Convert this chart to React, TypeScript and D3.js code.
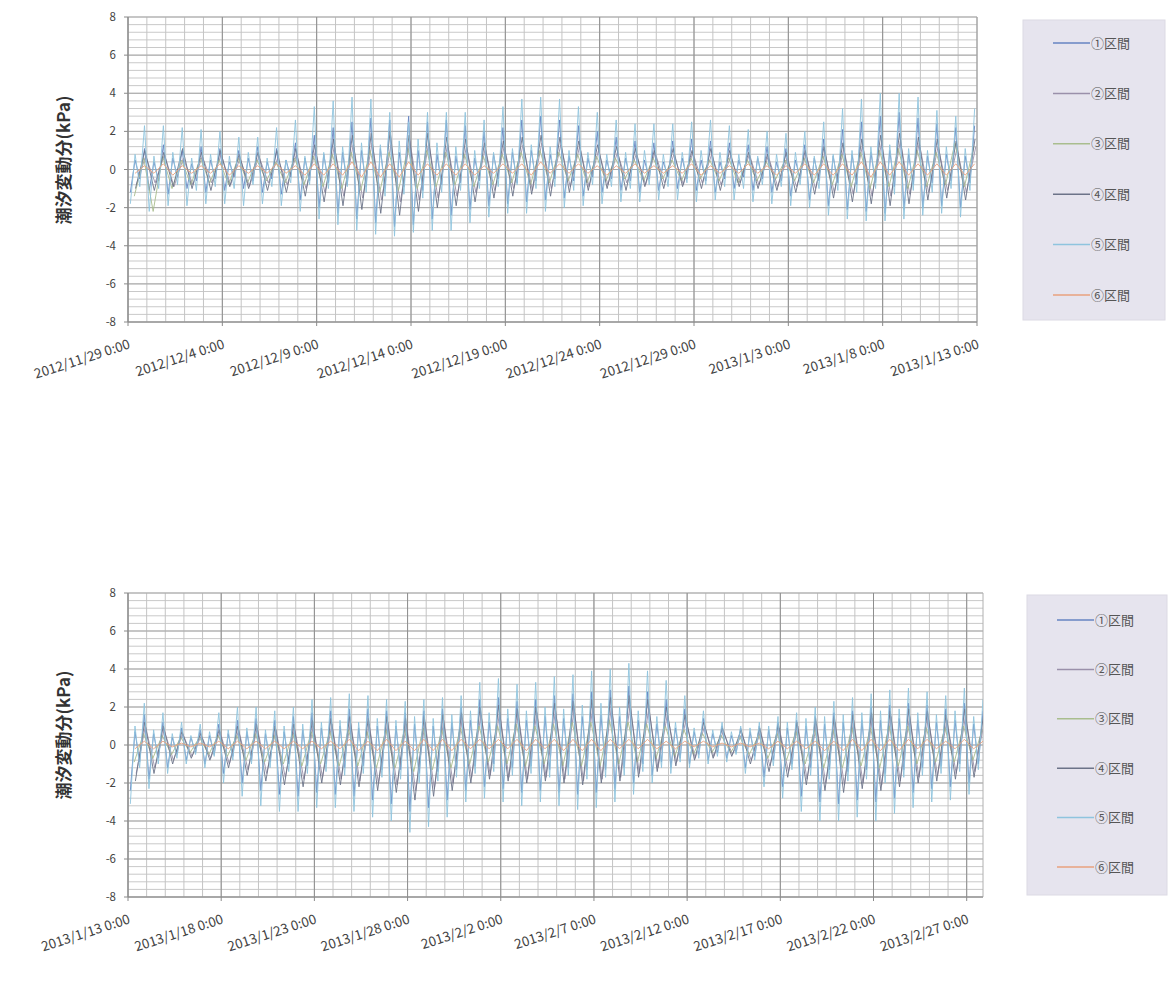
import React, { useMemo } from "react";
import * as d3 from "d3";

const SERIES_NAMES = ["①区間", "②区間", "③区間", "④区間", "⑤区間", "⑥区間"];
const SERIES_COLORS = ["#6684c2", "#9a90aa", "#a9bd8e", "#6c7388", "#8fc4de", "#e9a27e"];
const Y_TICKS = [8, 6, 4, 2, 0, -2, -4, -6, -8];
const LAG_HOURS = [0, 1.5, -1, 0.5, 0, 0];

const TOP_TICK_LABELS = [
  "2012/11/29 0:00", "2012/12/4 0:00", "2012/12/9 0:00", "2012/12/14 0:00", "2012/12/19 0:00",
  "2012/12/24 0:00", "2012/12/29 0:00", "2013/1/3 0:00", "2013/1/8 0:00", "2013/1/13 0:00",
];
const BOTTOM_TICK_LABELS = [
  "2013/1/13 0:00", "2013/1/18 0:00", "2013/1/23 0:00", "2013/1/28 0:00", "2013/2/2 0:00",
  "2013/2/7 0:00", "2013/2/12 0:00", "2013/2/17 0:00", "2013/2/22 0:00", "2013/2/27 0:00",
];
const TOP_END = "2013/1/13 0:00";
const BOTTOM_END = "2013/2/27 21:00";

// ---- top chart, one value per day (kPa) ----
const TOP_S1_HH = [1.1,1.3,1.0,1.2,1.1,1.0,1.2,1.1,1.4,1.8,2.2,2.5,2.7,2.6,2.8,2.5,2.6,2.3,2.0,2.2,2.6,2.8,2.6,2.3,2.0,1.7,1.5,1.4,1.5,1.6,1.5,1.4,1.3,1.2,1.1,1.3,1.6,2.1,2.5,2.8,3.0,2.7,2.4,2.2,2.3];
const TOP_S1_LL = [-1.2,-1.1,-1.3,-1.0,-1.2,-1.1,-1.0,-1.2,-1.3,-1.6,-2.0,-2.3,-2.6,-2.8,-3.0,-2.9,-2.6,-2.4,-2.1,-1.9,-1.8,-1.7,-1.6,-1.5,-1.4,-1.2,-1.1,-1.2,-1.1,-1.0,-1.1,-1.2,-1.0,-1.1,-1.2,-1.4,-1.6,-1.9,-2.1,-2.2,-2.3,-2.1,-2.0,-1.9,-2.0];
const TOP_S1_LH = [0.5,0.4,0.6,0.3,0.5,0.4,0.6,0.4,0.5,0.6,0.8,0.9,1.0,1.1,0.9,1.0,0.8,0.7,0.6,0.8,0.9,1.0,0.8,0.7,0.6,0.5,0.6,0.5,0.4,0.6,0.5,0.4,0.5,0.6,0.4,0.5,0.6,0.7,0.8,0.9,1.0,0.8,0.7,0.8,0.7];
const TOP_S1_HL = [-0.5,-0.6,-0.4,-0.6,-0.5,-0.4,-0.6,-0.5,-0.4,-0.6,-0.7,-0.8,-0.9,-1.0,-0.9,-1.1,-0.8,-0.7,-0.6,-0.5,-0.7,-0.6,-0.5,-0.6,-0.4,-0.5,-0.6,-0.5,-0.4,-0.5,-0.6,-0.5,-0.4,-0.5,-0.6,-0.5,-0.6,-0.7,-0.8,-0.7,-0.9,-0.8,-0.7,-0.6,-0.7];
const TOP_S2_HI = [0.7,0.8,0.6,0.7,0.8,0.6,0.7,0.6,0.8,1.0,1.2,1.3,1.4,1.3,1.5,1.4,1.3,1.2,1.1,1.2,1.3,1.4,1.3,1.2,1.0,0.9,0.8,0.9,0.8,0.9,0.8,0.7,0.8,0.7,0.6,0.8,0.9,1.1,1.3,1.4,1.5,1.4,1.2,1.1,1.2];
const TOP_S2_LO = [-0.8,-0.7,-0.9,-0.8,-0.7,-0.8,-0.9,-0.7,-0.8,-1.0,-1.2,-1.4,-1.5,-1.6,-1.7,-1.6,-1.5,-1.4,-1.2,-1.1,-1.0,-1.1,-1.0,-0.9,-0.9,-0.8,-0.7,-0.8,-0.7,-0.8,-0.7,-0.8,-0.7,-0.8,-0.9,-0.9,-1.0,-1.2,-1.3,-1.4,-1.4,-1.3,-1.2,-1.1,-1.2];
const TOP_S3_HI = [0.6,0.7,0.5,0.6,0.5,0.6,0.5,0.4,0.6,0.7,0.8,0.9,1.0,0.9,1.1,1.0,0.9,0.8,0.7,0.8,0.9,1.0,0.9,0.8,0.7,0.6,0.5,0.6,0.5,0.6,0.5,0.6,0.5,0.4,0.5,0.6,0.7,0.8,0.9,1.0,1.1,1.0,0.9,1.4,1.2];
const TOP_S3_LO = [-1.4,-2.2,-1.0,-0.8,-0.7,-0.8,-0.7,-0.6,-0.7,-0.8,-0.9,-1.0,-1.1,-1.2,-1.1,-1.0,-0.9,-0.8,-0.9,-0.8,-0.7,-0.8,-0.7,-0.6,-0.7,-0.6,-0.5,-0.6,-0.5,-0.6,-0.5,-0.6,-0.7,-0.6,-0.5,-0.6,-0.7,-0.8,-0.9,-1.0,-0.9,-1.0,-0.9,-0.8,-0.9];
const TOP_S4_HI = [1.0,0.9,1.1,0.9,1.0,0.8,0.9,1.0,1.1,1.3,1.6,1.8,1.9,2.0,1.8,1.9,1.7,1.6,1.4,1.5,1.7,1.8,1.7,1.5,1.3,1.2,1.1,1.0,1.1,1.0,1.1,1.0,0.9,0.8,0.9,1.0,1.2,1.4,1.6,1.8,1.9,1.7,1.6,1.5,1.6];
const TOP_S4_LO = [-1.0,-1.1,-0.9,-1.0,-1.1,-0.9,-1.0,-1.1,-1.2,-1.4,-1.7,-1.9,-2.1,-2.3,-2.4,-2.2,-2.0,-1.9,-1.7,-1.5,-1.4,-1.3,-1.4,-1.2,-1.1,-1.0,-1.1,-0.9,-1.0,-0.9,-1.0,-1.1,-0.9,-1.0,-1.1,-1.2,-1.3,-1.5,-1.7,-1.8,-1.9,-1.8,-1.6,-1.5,-1.6];
const TOP_S5_HH = [2.3,2.3,2.2,2.1,2.0,1.7,1.7,2.2,2.6,3.3,3.6,3.8,3.7,3.0,2.5,3.0,3.0,3.0,2.6,3.3,3.7,3.8,3.7,3.3,3.0,2.6,2.4,2.4,2.4,2.5,2.6,2.3,2.1,2.0,1.9,2.0,2.5,3.2,3.7,4.0,4.0,3.8,3.1,2.8,3.2];
const TOP_S5_LL = [-1.8,-2.2,-1.9,-1.9,-1.8,-1.8,-1.9,-1.8,-1.9,-2.2,-2.6,-2.9,-3.2,-3.4,-3.5,-3.3,-3.2,-3.2,-2.8,-2.5,-2.3,-2.3,-2.2,-2.0,-1.9,-1.8,-1.7,-1.7,-1.6,-1.6,-1.7,-1.6,-1.6,-1.7,-1.8,-1.9,-2.0,-2.4,-2.6,-2.7,-2.7,-2.6,-2.4,-2.3,-2.5];
const TOP_S5_LH = [0.8,0.7,0.9,0.6,0.8,0.7,0.9,0.6,0.5,0.7,0.9,1.2,1.4,1.3,1.5,1.6,1.4,1.2,1.0,0.9,1.1,1.3,1.2,1.0,0.9,0.8,0.9,1.0,0.8,0.9,1.0,0.9,0.8,0.7,0.8,0.9,0.7,0.8,1.0,1.2,1.3,1.1,1.0,1.2,1.1];
const TOP_S5_HL = [-0.9,-1.0,-0.8,-1.1,-0.9,-1.0,-0.8,-0.9,-0.7,-0.8,-1.0,-0.9,-1.2,-1.4,-1.3,-1.5,-1.2,-1.1,-1.0,-0.9,-0.8,-1.0,-0.9,-1.1,-0.8,-0.9,-1.0,-0.8,-0.9,-0.7,-0.8,-0.9,-1.0,-0.8,-0.9,-0.8,-1.0,-1.1,-1.2,-1.0,-1.3,-1.1,-1.2,-1.0,-1.1];
const TOP_S6_HI = [0.2,0.3,0.2,0.2,0.3,0.2,0.2,0.3,0.2,0.3,0.3,0.4,0.4,0.3,0.4,0.3,0.3,0.3,0.2,0.3,0.3,0.4,0.3,0.3,0.2,0.2,0.3,0.2,0.2,0.3,0.2,0.2,0.3,0.2,0.2,0.3,0.3,0.3,0.4,0.4,0.4,0.3,0.3,0.3,0.3];
const TOP_S6_LO = [-0.2,-0.2,-0.3,-0.2,-0.2,-0.3,-0.2,-0.2,-0.2,-0.3,-0.3,-0.3,-0.4,-0.4,-0.4,-0.3,-0.3,-0.3,-0.3,-0.2,-0.2,-0.3,-0.2,-0.2,-0.2,-0.3,-0.2,-0.2,-0.2,-0.2,-0.3,-0.2,-0.2,-0.2,-0.3,-0.2,-0.3,-0.3,-0.3,-0.4,-0.3,-0.3,-0.3,-0.3,-0.3];

// ---- bottom chart, one value per day (kPa) ----
const BOT_S1_HH = [1.6,1.2,0.9,0.8,1.1,1.3,1.4,1.3,1.5,1.7,1.8,1.9,1.9,1.8,1.7,1.8,1.9,2.0,2.4,2.5,2.3,2.4,2.6,2.7,2.8,2.9,3.1,2.8,2.4,1.9,1.4,1.0,0.9,1.0,1.2,1.3,1.5,1.7,1.8,2.0,2.1,2.2,2.1,1.9,2.2,1.8];
const BOT_S1_LL = [-2.4,-1.8,-1.2,-0.8,-1.0,-1.5,-2.0,-2.4,-2.6,-2.7,-2.5,-2.6,-2.7,-2.9,-3.1,-3.5,-3.3,-2.9,-2.4,-2.2,-2.3,-2.5,-2.4,-2.5,-2.6,-2.5,-2.3,-2.0,-1.6,-1.2,-1.0,-0.8,-0.7,-1.2,-1.7,-2.2,-2.7,-3.0,-3.1,-2.9,-3.0,-2.8,-2.5,-2.3,-2.2,-2.0];
const BOT_S1_LH = [0.7,0.6,0.4,0.4,0.5,0.6,0.7,0.6,0.7,0.8,0.9,1.0,0.9,1.0,1.0,1.1,1.0,1.2,1.3,1.2,1.4,1.3,1.5,1.4,1.5,1.6,1.5,1.3,1.1,0.9,0.7,0.6,0.5,0.7,0.8,0.9,1.0,1.1,1.2,1.3,1.3,1.4,1.3,1.2,1.3,1.1];
const BOT_S1_HL = [-0.9,-0.7,-0.5,-0.4,-0.5,-0.6,-0.8,-0.9,-1.0,-1.1,-1.0,-1.2,-1.1,-1.3,-1.3,-1.5,-1.4,-1.3,-1.1,-1.0,-1.2,-1.1,-1.3,-1.2,-1.3,-1.3,-1.2,-1.0,-0.9,-0.7,-0.5,-0.4,-0.4,-0.6,-0.8,-1.0,-1.2,-1.3,-1.4,-1.3,-1.5,-1.3,-1.2,-1.1,-1.0,-1.0];
const BOT_S2_HI = [1.0,0.8,0.6,0.5,0.7,0.8,0.9,0.8,0.9,1.0,1.1,1.2,1.1,1.2,1.1,1.2,1.3,1.4,1.6,1.7,1.6,1.7,1.8,1.9,2.0,2.0,2.1,1.9,1.6,1.3,1.0,0.7,0.6,0.7,0.9,1.0,1.1,1.2,1.3,1.4,1.5,1.5,1.4,1.3,1.5,1.2];
const BOT_S2_LO = [-1.5,-1.2,-0.8,-0.6,-0.7,-1.0,-1.3,-1.5,-1.7,-1.8,-1.7,-1.8,-1.9,-2.0,-2.1,-2.4,-2.3,-2.0,-1.7,-1.6,-1.7,-1.8,-1.7,-1.8,-1.9,-1.8,-1.7,-1.5,-1.2,-0.9,-0.7,-0.6,-0.5,-0.8,-1.1,-1.4,-1.8,-2.0,-2.1,-2.0,-2.1,-1.9,-1.7,-1.6,-1.5,-1.4];
const BOT_S3_HI = [0.6,0.5,0.4,0.4,0.5,0.5,0.6,0.5,0.6,0.7,0.7,0.8,0.7,0.8,0.8,0.9,0.8,0.9,1.0,1.0,1.1,1.0,1.1,1.2,1.2,1.3,1.2,1.1,1.0,0.8,0.6,0.5,0.4,0.5,0.6,0.7,0.8,0.8,0.9,0.9,1.0,1.0,0.9,0.9,1.0,0.8];
const BOT_S3_LO = [-0.9,-0.7,-0.5,-0.4,-0.5,-0.6,-0.8,-0.9,-1.0,-1.1,-1.0,-1.1,-1.1,-1.2,-1.2,-1.4,-1.3,-1.2,-1.0,-0.9,-1.0,-1.1,-1.0,-1.1,-1.1,-1.1,-1.0,-0.9,-0.7,-0.6,-0.5,-0.4,-0.4,-0.5,-0.7,-0.8,-1.0,-1.2,-1.2,-1.1,-1.2,-1.1,-1.0,-0.9,-0.9,-0.8];
const BOT_S4_HI = [1.2,1.0,0.7,0.6,0.8,1.0,1.1,1.0,1.1,1.3,1.4,1.5,1.4,1.5,1.4,1.5,1.6,1.7,2.0,2.1,1.9,2.0,2.2,2.3,2.4,2.5,2.6,2.4,2.0,1.6,1.2,0.9,0.8,0.9,1.1,1.2,1.4,1.5,1.6,1.7,1.8,1.9,1.8,1.6,1.9,1.5];
const BOT_S4_LO = [-1.9,-1.5,-1.0,-0.7,-0.8,-1.2,-1.6,-1.9,-2.1,-2.2,-2.0,-2.1,-2.2,-2.4,-2.5,-2.9,-2.7,-2.4,-2.0,-1.8,-1.9,-2.0,-1.9,-2.0,-2.1,-2.0,-1.9,-1.7,-1.4,-1.1,-0.8,-0.7,-0.6,-1.0,-1.4,-1.7,-2.1,-2.4,-2.5,-2.3,-2.4,-2.2,-2.0,-1.9,-1.8,-1.7];
const BOT_S5_HH = [2.2,1.7,1.2,1.1,1.7,2.0,2.0,1.8,2.0,2.4,2.5,2.7,2.6,2.4,2.3,2.4,2.5,2.6,3.3,3.5,3.2,3.3,3.6,3.7,3.9,4.0,4.3,3.9,3.4,2.6,1.8,1.2,1.0,1.2,1.5,1.7,2.0,2.3,2.5,2.7,2.9,3.0,2.8,2.6,3.0,2.4];
const BOT_S5_LL = [-3.1,-2.3,-1.5,-1.0,-1.2,-2.0,-2.7,-3.2,-3.5,-3.5,-3.3,-3.3,-3.5,-3.8,-4.0,-4.6,-4.3,-3.8,-3.0,-2.8,-3.0,-3.2,-3.0,-3.2,-3.4,-3.3,-3.0,-2.6,-2.0,-1.5,-1.2,-1.0,-0.9,-1.5,-2.2,-2.8,-3.5,-4.0,-4.0,-3.8,-4.0,-3.6,-3.3,-3.0,-2.9,-2.6];
const BOT_S5_LH = [1.0,0.8,0.6,0.5,0.7,0.8,0.9,0.8,1.0,1.1,1.2,1.3,1.2,1.4,1.3,1.5,1.4,1.6,1.8,1.7,1.9,1.8,2.0,1.9,2.1,2.2,2.0,1.8,1.5,1.2,0.9,0.8,0.7,0.9,1.0,1.2,1.4,1.5,1.6,1.7,1.8,1.9,1.7,1.6,1.8,1.5];
const BOT_S5_HL = [-1.2,-1.0,-0.7,-0.5,-0.6,-0.8,-1.0,-1.2,-1.4,-1.5,-1.4,-1.6,-1.5,-1.7,-1.8,-2.0,-1.9,-1.7,-1.5,-1.4,-1.6,-1.5,-1.7,-1.6,-1.8,-1.7,-1.6,-1.4,-1.2,-0.9,-0.7,-0.6,-0.5,-0.8,-1.1,-1.3,-1.6,-1.8,-1.9,-1.8,-2.0,-1.7,-1.6,-1.5,-1.4,-1.3];
const BOT_S6_HI = [0.2,0.2,0.1,0.1,0.2,0.2,0.2,0.2,0.2,0.2,0.2,0.3,0.2,0.3,0.2,0.3,0.3,0.3,0.3,0.3,0.3,0.3,0.3,0.3,0.3,0.3,0.3,0.3,0.2,0.2,0.2,0.1,0.1,0.1,0.2,0.2,0.2,0.2,0.3,0.3,0.3,0.3,0.3,0.2,0.3,0.2];
const BOT_S6_LO = [-0.2,-0.2,-0.1,-0.1,-0.1,-0.2,-0.2,-0.2,-0.2,-0.2,-0.2,-0.2,-0.3,-0.3,-0.3,-0.3,-0.3,-0.3,-0.2,-0.2,-0.2,-0.3,-0.2,-0.3,-0.3,-0.3,-0.2,-0.2,-0.2,-0.2,-0.1,-0.1,-0.1,-0.1,-0.2,-0.2,-0.2,-0.3,-0.3,-0.3,-0.3,-0.3,-0.2,-0.2,-0.2,-0.2];

type Daily = { hh: number[]; ll: number[]; lh?: number[]; hl?: number[] };

const TOP_SERIES: Daily[] = [
  { hh: TOP_S1_HH, ll: TOP_S1_LL, lh: TOP_S1_LH, hl: TOP_S1_HL },
  { hh: TOP_S2_HI, ll: TOP_S2_LO },
  { hh: TOP_S3_HI, ll: TOP_S3_LO },
  { hh: TOP_S4_HI, ll: TOP_S4_LO },
  { hh: TOP_S5_HH, ll: TOP_S5_LL, lh: TOP_S5_LH, hl: TOP_S5_HL },
  { hh: TOP_S6_HI, ll: TOP_S6_LO },
];
const BOTTOM_SERIES: Daily[] = [
  { hh: BOT_S1_HH, ll: BOT_S1_LL, lh: BOT_S1_LH, hl: BOT_S1_HL },
  { hh: BOT_S2_HI, ll: BOT_S2_LO },
  { hh: BOT_S3_HI, ll: BOT_S3_LO },
  { hh: BOT_S4_HI, ll: BOT_S4_LO },
  { hh: BOT_S5_HH, ll: BOT_S5_LL, lh: BOT_S5_LH, hl: BOT_S5_HL },
  { hh: BOT_S6_HI, ll: BOT_S6_LO },
];

const parseTime = d3.timeParse("%Y/%m/%d %H:%M");
const HOUR = 3600 * 1000;
const FONT = "'Noto Sans CJK JP', 'Noto Sans', sans-serif";

// daily extremes -> timestamped points (low-low 3h, low-high 9h, high-low 15h, high-high 21h)
function toPoints(s: Daily, start: Date, lag: number): [Date, number][] {
  const pts: [Date, number][] = [];
  s.hh.forEach((_, d) => {
    const day = +d3.timeDay.offset(start, d);
    if (s.lh && s.hl) {
      pts.push([new Date(day + 3 * HOUR), s.ll[d]]);
      pts.push([new Date(day + 9 * HOUR), s.lh[d]]);
      pts.push([new Date(day + 15 * HOUR), s.hl[d]]);
      pts.push([new Date(day + 21 * HOUR), s.hh[d]]);
    } else {
      pts.push([new Date(day + (9 + lag) * HOUR), s.ll[d]]);
      pts.push([new Date(day + (21 + lag) * HOUR), s.hh[d]]);
    }
  });
  return pts;
}

type ChartProps = {
  id: string;
  left: number;
  right: number;
  top: number;
  bottom: number;
  tickLabels: string[];
  endLabel: string;
  series: Daily[];
  legend: { x: number; y: number; w: number; h: number; first: number; step: number };
  titleY: number;
};

const TideChart = ({ id, left, right, top, bottom, tickLabels, endLabel, series, legend, titleY }: ChartProps) => {
  const ticks = tickLabels.map((t) => parseTime(t) as Date);
  const start = ticks[0];
  const end = parseTime(endLabel) as Date;

  const xScale = useMemo(() => d3.scaleTime().domain([start, end]).range([left, right]), [start, end, left, right]);
  const yScale = useMemo(() => d3.scaleLinear().domain([-8, 8]).range([bottom, top]), [top, bottom]);

  const paths = useMemo(() => {
    const line = d3.line<[Date, number]>().x((d) => xScale(d[0])).y((d) => yScale(d[1]));
    return series.map((s, i) => line(toPoints(s, start, LAG_HOURS[i])) || "");
  }, [series, xScale, yScale, start]);

  const minorY = d3.range(-8, 8.001, 0.4);
  const days = d3.timeDay.range(start, end);

  return (
    <g>
      <defs>
        <clipPath id={id}>
          <rect x={left} y={top} width={right - left} height={bottom - top} />
        </clipPath>
      </defs>
      {/* grid */}
      {minorY.map((v, i) => (
        <line key={"hy" + i} x1={left} x2={right} y1={yScale(v)} y2={yScale(v)} stroke="#c9c9c9" strokeWidth={1} />
      ))}
      {days.map((d, i) => (
        <line key={"vx" + i} x1={xScale(d)} x2={xScale(d)} y1={top} y2={bottom} stroke="#c4c4c4" strokeWidth={1} />
      ))}
      {Y_TICKS.map((v) => (
        <line key={"my" + v} x1={left} x2={right} y1={yScale(v)} y2={yScale(v)} stroke="#a8a8a8" strokeWidth={1} />
      ))}
      {ticks.map((d, i) => (
        <line key={"mx" + i} x1={xScale(d)} x2={xScale(d)} y1={top} y2={bottom} stroke="#8e8e8e" strokeWidth={1} />
      ))}
      <line x1={right} x2={right} y1={top} y2={bottom} stroke="#b0b0b0" />

      {/* series */}
      <g clipPath={`url(#${id})`}>
        {paths.map((p, i) => (
          <path key={i} d={p} fill="none" stroke={SERIES_COLORS[i]} strokeWidth={1} strokeOpacity={0.9} />
        ))}
      </g>

      {/* axes */}
      <line x1={left} x2={left} y1={top} y2={bottom} stroke="#8a8a8a" />
      <line x1={left} x2={right} y1={bottom} y2={bottom} stroke="#8a8a8a" />
      {Y_TICKS.map((v) => (
        <g key={"yt" + v}>
          <line x1={left - 4} x2={left} y1={yScale(v)} y2={yScale(v)} stroke="#8a8a8a" />
          <text x={left - 12} y={yScale(v)} dy="0.35em" textAnchor="end" fontSize={11.5} fill="#444" fontFamily={FONT}>
            {v}
          </text>
        </g>
      ))}
      {ticks.map((d, i) => (
        <g key={"xt" + i}>
          <line x1={xScale(d)} x2={xScale(d)} y1={bottom} y2={bottom + 4} stroke="#8a8a8a" />
          <text
            transform={`translate(${xScale(d) + 3},${bottom + 26}) rotate(-18)`}
            textAnchor="end"
            fontSize={13.5}
            fill="#444"
            fontFamily={FONT}
          >
            {tickLabels[i]}
          </text>
        </g>
      ))}
      <text
        transform={`translate(${64},${titleY}) rotate(-90)`}
        textAnchor="middle"
        dy="0.35em"
        fontSize={17}
        fontWeight="bold"
        fill="#333"
        fontFamily={FONT}
      >
        潮汐変動分(kPa)
      </text>

      {/* legend */}
      <rect x={legend.x} y={legend.y} width={legend.w} height={legend.h} fill="#e6e4ee" stroke="#dcdae4" />
      {SERIES_NAMES.map((name, i) => {
        const y = legend.y + legend.first + i * legend.step;
        return (
          <g key={name}>
            <line x1={legend.x + 30} x2={legend.x + 67} y1={y} y2={y} stroke={SERIES_COLORS[i]} strokeWidth={1.5} />
            <text x={legend.x + 68} y={y} dy="0.35em" fontSize={13} fill="#555" fontFamily={FONT}>
              {name}
            </text>
          </g>
        );
      })}
    </g>
  );
};

export default function App() {
  return (
    <svg width={1173} height={982} style={{ position: "absolute", left: 0, top: 0, background: "#fff" }}>
      <TideChart
        id="clip-top"
        left={128}
        right={977}
        top={17}
        bottom={322}
        tickLabels={TOP_TICK_LABELS}
        endLabel={TOP_END}
        series={TOP_SERIES}
        legend={{ x: 1023, y: 20, w: 142, h: 300, first: 23, step: 50.4 }}
        titleY={160}
      />
      <TideChart
        id="clip-bottom"
        left={128}
        right={983}
        top={593}
        bottom={897}
        tickLabels={BOTTOM_TICK_LABELS}
        endLabel={BOTTOM_END}
        series={BOTTOM_SERIES}
        legend={{ x: 1027, y: 595, w: 140, h: 300, first: 25, step: 49.4 }}
        titleY={735}
      />
    </svg>
  );
}
